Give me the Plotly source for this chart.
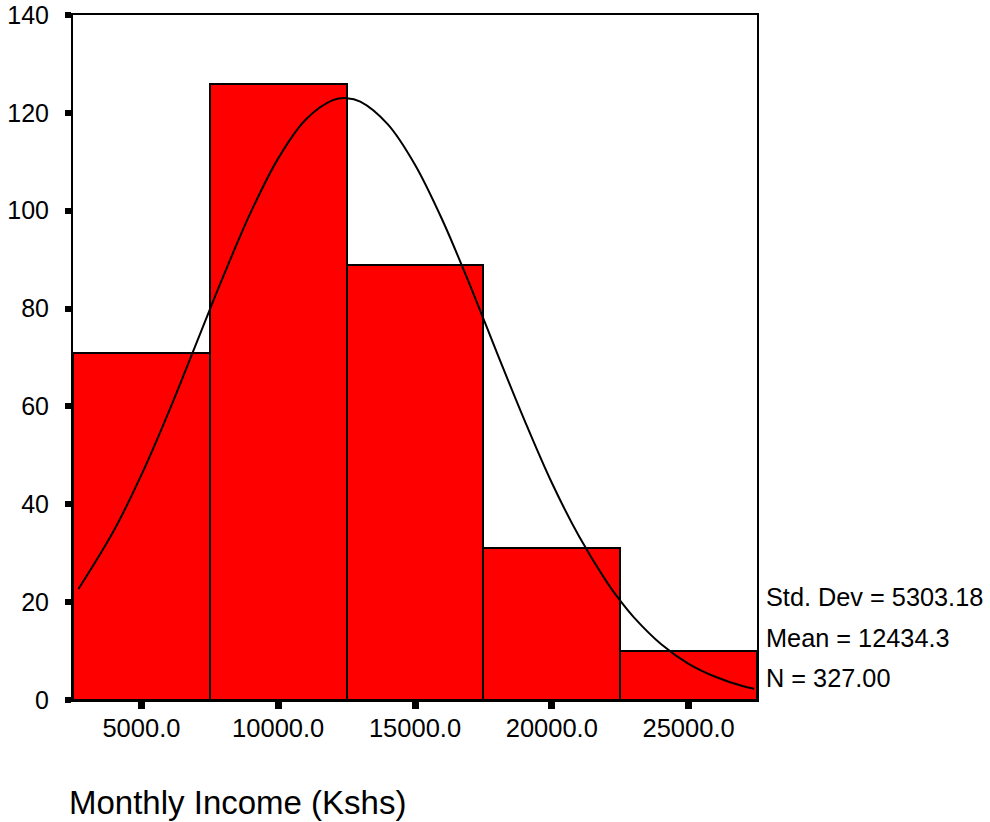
import plotly.graph_objects as go

# Histogram bins (centers, counts)
bin_centers = [5000, 10000, 15000, 20000, 25000]
counts = [71, 126, 89, 31, 10]
bin_width = 5000

# Normal curve points
curve_x = [2700, 4000, 5000, 6000, 7000, 7500, 8000, 9000, 10000, 11000, 12000,
           12500, 13000, 14000, 15000, 16000, 17000, 18000, 19000, 20000, 21000,
           22000, 22500, 23000, 24000, 25000, 26000, 27000, 27400]
curve_y = [22.7, 34.7, 46.0, 58.9, 72.8, 79.8, 86.7, 99.7, 110.7, 118.6, 122.6,
           123.0, 122.3, 117.7, 109.4, 98.1, 84.9, 70.9, 57.2, 44.4, 33.4,
           24.2, 20.3, 16.9, 11.4, 7.4, 4.7, 2.8, 2.3]

x_tick_vals = [5000, 10000, 15000, 20000, 25000]
x_tick_text = ["5000.0", "10000.0", "15000.0", "20000.0", "25000.0"]
y_tick_vals = [0, 20, 40, 60, 80, 100, 120, 140]

stats_text = ["Std. Dev = 5303.18", "Mean = 12434.3", "N = 327.00"]
stats_y = [21.0, 12.7, 4.5]
x_title = "Monthly Income (Kshs)"

FONT = "Liberation Sans, Arial, sans-serif"

fig = go.Figure()
fig.add_trace(go.Bar(
    x=bin_centers, y=counts, width=[bin_width] * len(bin_centers),
    marker=dict(color="#FF0000", line=dict(color="black", width=2)),
    hoverinfo="x+y", showlegend=False,
))
fig.add_trace(go.Scatter(
    x=curve_x, y=curve_y, mode="lines",
    line=dict(color="black", width=2, shape="spline"),
    showlegend=False,
))

for t, yv in zip(stats_text, stats_y):
    fig.add_annotation(
        text=t, xref="paper", yref="y", x=1.0105, y=yv,
        xanchor="left", yanchor="middle", showarrow=False,
        font=dict(family=FONT, size=25.3, color="black"),
    )

fig.add_annotation(
    text=x_title, xref="paper", yref="paper", x=-0.009, y=-0.149,
    xanchor="left", yanchor="middle", showarrow=False,
    font=dict(family=FONT, size=33, color="black"),
)

fig.update_layout(
    width=990, height=822,
    margin=dict(l=73, r=233, t=15, b=122),
    paper_bgcolor="white", plot_bgcolor="white",
    font=dict(family=FONT, size=25, color="black"),
    bargap=0,
    xaxis=dict(
        range=[2500, 27500], tickvals=x_tick_vals, ticktext=x_tick_text,
        showgrid=False, zeroline=False, automargin=False,
        showline=True, linecolor="black", linewidth=2, mirror=True,
        ticks="outside", ticklen=7, tickwidth=7, tickcolor="black",
        ticklabelstandoff=-3,
        tickfont=dict(family=FONT, size=25.5, color="black"),
    ),
    yaxis=dict(
        range=[0, 140], tickvals=y_tick_vals,
        showgrid=False, zeroline=False, automargin=False,
        showline=True, linecolor="black", linewidth=2, mirror=True,
        ticks="outside", ticklen=6, tickwidth=6, tickcolor="black",
        ticklabelstandoff=11,
        tickfont=dict(family=FONT, size=25, color="black"),
    ),
)

fig.write_html(
    "out.html",
    config={"displayModeBar": False},
    post_script="document.body.style.margin='0';document.body.style.overflow='hidden';",
)
